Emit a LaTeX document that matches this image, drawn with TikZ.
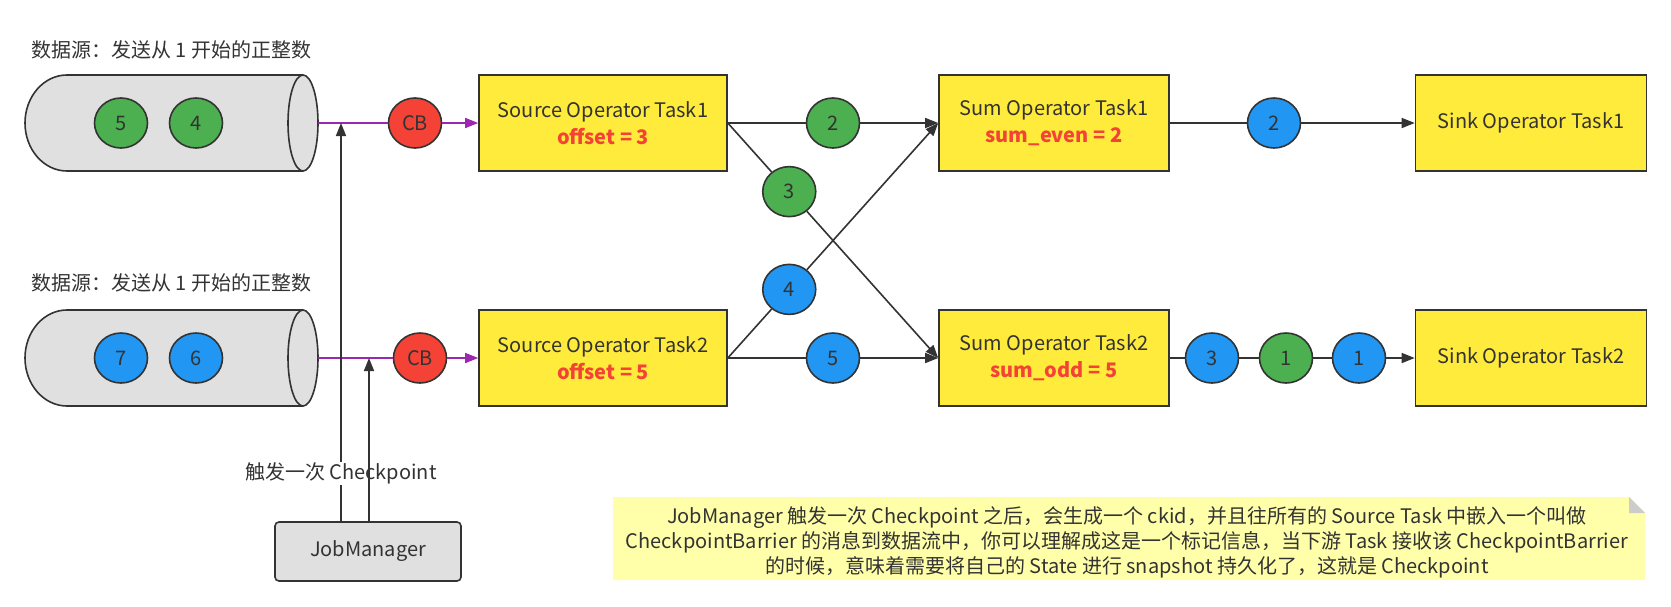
\documentclass[tikz,border=0pt]{standalone}
\usepackage{fontspec}
\setmainfont{Noto Sans CJK SC}
\usetikzlibrary{arrows.meta,shapes.geometric,calc}
\definecolor{ink}{HTML}{333333}
\definecolor{boxyellow}{HTML}{FFEB3B}
\definecolor{dgreen}{HTML}{4CAF50}
\definecolor{dblue}{HTML}{2196F3}
\definecolor{dred}{HTML}{F44336}
\definecolor{cylgray}{HTML}{E0E0E0}
\definecolor{flowpurple}{HTML}{9C27B0}
\definecolor{notefill}{HTML}{FFFFAA}
\definecolor{foldgray}{HTML}{CCCCCC}
\definecolor{redtext}{HTML}{F44336}
\begin{document}
\begin{tikzpicture}[x=1pt,y=-1pt,
  every node/.style={text=ink, font=\fontsize{20}{27}\selectfont},
  taskbox/.style={draw=ink, line width=1.6pt, fill=boxyellow, minimum height=96pt, inner sep=0pt, align=center},
  datum/.style={ellipse, draw=ink, line width=1.6pt, minimum width=53pt, minimum height=50pt, inner sep=0pt},
  gdat/.style={datum, fill=dgreen},
  bdat/.style={datum, fill=dblue},
  rdat/.style={datum, fill=dred},
  flow/.style={draw=ink, line width=1.6pt},
  flowarrow/.style={flow, -{Triangle[length=13pt,width=10pt]}},
  purpleflow/.style={draw=flowpurple, line width=1.6pt},
  purplearrow/.style={purpleflow, -{Triangle[length=13pt,width=10pt]}},
  cylbody/.style={fill=cylgray, draw=ink, line width=1.6pt},
]
\useasboundingbox (0,0) rectangle (1671,606);

% ---------- cylinders ----------
\filldraw[cylbody] (303,75) -- (67,75) arc[start angle=270, end angle=90, x radius=42, y radius=48] -- (303,171);
\filldraw[cylbody] (303,123) ellipse[x radius=15, y radius=48];
\node[minimum width=293pt, minimum height=96pt, inner sep=0pt] (cyl1) at (171.5,123) {};

\filldraw[cylbody] (303,310) -- (67,310) arc[start angle=270, end angle=90, x radius=42, y radius=48] -- (303,406);
\filldraw[cylbody] (303,358) ellipse[x radius=15, y radius=48];
\node[minimum width=293pt, minimum height=96pt, inner sep=0pt] (cyl2) at (171.5,358) {};

\node[gdat] (d5) at (121,123) {5};
\node[gdat] (d4) at (196,123) {4};
\node[bdat] (d7) at (121,358) {7};
\node[bdat] (d6) at (196,358) {6};

\node[anchor=west, inner sep=0pt] (title1) at (31,50) {数据源：发送从 1 开始的正整数};
\node[anchor=west, inner sep=0pt] (title2) at (31,283) {数据源：发送从 1 开始的正整数};

% ---------- task boxes ----------
\node[taskbox, minimum width=248pt] (s1) at (603,123) {Source Operator Task1\\\textcolor{redtext}{\bfseries offset = 3}};
\node[taskbox, minimum width=248pt] (s2) at (603,358) {Source Operator Task2\\\textcolor{redtext}{\bfseries offset = 5}};
\node[taskbox, minimum width=230pt] (sum1) at (1054,123) {Sum Operator Task1\\\textcolor{redtext}{\bfseries sum\_even = 2}};
\node[taskbox, minimum width=230pt] (sum2) at (1054,358) {Sum Operator Task2\\\textcolor{redtext}{\bfseries sum\_odd = 5}};
\node[taskbox, minimum width=231pt] (sink1) at (1531,123) {Sink Operator Task1};
\node[taskbox, minimum width=231pt] (sink2) at (1531,358) {Sink Operator Task2};

% ---------- checkpoint barriers ----------
\node[rdat] (cb1) at (415,123) {CB};
\node[rdat] (cb2) at (420,358) {CB};
\draw[purpleflow] (cyl1.east) -- (cb1);
\draw[purplearrow] (cb1) -- (s1);
\draw[purpleflow] (cyl2.east) -- (cb2);
\draw[purplearrow] (cb2) -- (s2);

% ---------- records in flight ----------
\path (s1.east) -- (sum1.west) node[gdat, pos=0.5] (g2) {2};
\path (s1.east) -- (sum2.west) node[gdat, pos=0.292] (g3) {3};
\path (s2.east) -- (sum1.west) node[bdat, pos=0.292] (b4) {4};
\path (s2.east) -- (sum2.west) node[bdat, pos=0.5] (b5) {5};
\node[bdat] (b2) at (1274,123) {2};
\node[bdat] (b3) at (1212,358) {3};
\node[gdat] (g1) at (1286,358) {1};
\node[bdat] (b1) at (1359,358) {1};

\draw[flowarrow] (s1.east) -- (g2) -- (sum1.west);
\draw[flowarrow] (s1.east) -- (g3) -- (sum2.west);
\draw[flowarrow] (s2.east) -- (b4) -- (sum1.west);
\draw[flowarrow] (s2.east) -- (b5) -- (sum2.west);
\draw[flowarrow] (sum1.east) -- (b2) -- (sink1.west);
\draw[flowarrow] (sum2.east) -- (b3) -- (g1) -- (b1) -- (sink2.west);

% ---------- job manager ----------
\node[draw=ink, line width=1.6pt, fill=cylgray, rounded corners=4pt, minimum width=186pt, minimum height=59pt, inner sep=0pt] (jm) at (368,551.5) {JobManager};
\coordinate (t1) at (341,123);
\coordinate (t2) at (369,358);
\draw[flowarrow] (t1 |- jm.north) -- node[pos=0.12, fill=white, inner sep=1pt] (trig) {触发一次 Checkpoint} (t1);
\draw[flowarrow] (t2 |- jm.north) -- (t2);

% ---------- note ----------
\fill[notefill] (613,497) -- (1629,497) -- (1645,513) -- (1645,580) -- (613,580) -- cycle;
\fill[foldgray] (1629,497) -- (1629,513) -- (1645,513) -- cycle;
\node[align=center, inner sep=0pt, font=\fontsize{20}{25}\selectfont] (note) at (1127,542) {JobManager 触发一次 Checkpoint 之后，会生成一个 ckid，并且往所有的 Source Task 中嵌入一个叫做\\CheckpointBarrier 的消息到数据流中，你可以理解成这是一个标记信息，当下游 Task 接收该 CheckpointBarrier\\的时候，意味着需要将自己的 State 进行 snapshot 持久化了，这就是 Checkpoint};
\end{tikzpicture}
\end{document}
